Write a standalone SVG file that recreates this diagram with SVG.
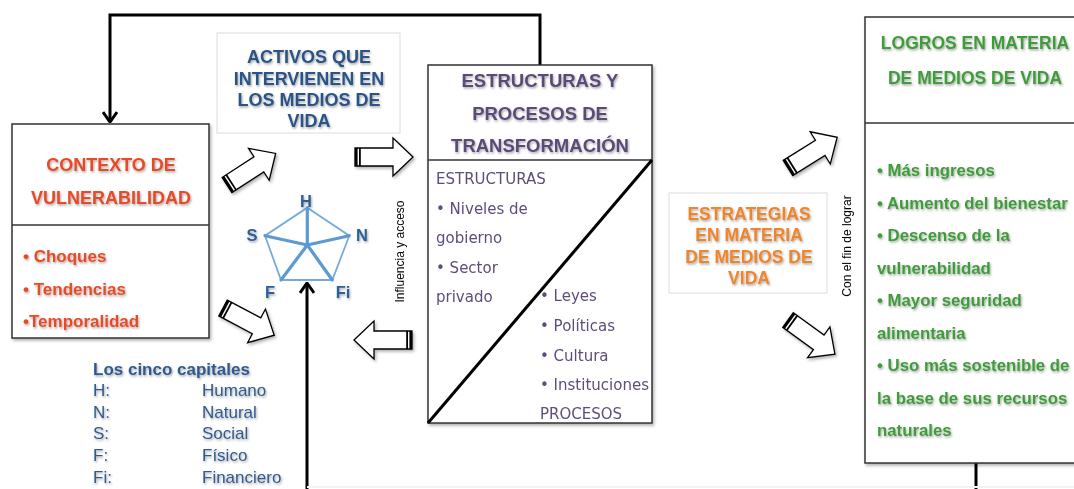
<svg xmlns="http://www.w3.org/2000/svg" xmlns:xlink="http://www.w3.org/1999/xlink" width="1074" height="489" viewBox="0 0 1074 489">
<style>
  .box{fill:#fff;stroke:#333;stroke-width:1.5}
  .lbox{fill:#fff;stroke:#dcdcdc;stroke-width:1}
  .t{font-family:"Liberation Sans",Arial,sans-serif;font-weight:bold;text-anchor:middle}
  .red{fill:#e84a27;font-size:18px}
  .redb{fill:#e84a27;font-size:17px;font-family:"Liberation Sans",Arial,sans-serif;font-weight:bold}
  .blue{fill:#2b5287;font-size:18px}
  .purp{fill:#5b4a78;font-size:18.5px}
  .pb{fill:#5e4d7a;font-size:15px;font-family:"DejaVu Sans",sans-serif}
  .org{fill:#f0842c;font-size:17.5px}
  .grn{fill:#3f9b3b;font-size:17.5px}
  .gb{fill:#3f9b3b;font-size:16.8px;font-family:"Liberation Sans",Arial,sans-serif;font-weight:bold}
  .pl{fill:#2f5f96;font-size:16.5px;font-family:"Liberation Sans",Arial,sans-serif;font-weight:bold;text-anchor:middle}
  .lg{fill:#2f5a90;font-size:17px;font-family:"Liberation Sans",Arial,sans-serif}
  .rot{fill:#000;font-size:12px;font-family:"Liberation Sans",Arial,sans-serif;text-anchor:middle}
  .ln{fill:none;stroke:#000;stroke-width:3}
  .blk{fill:#fff;stroke:#000;stroke-width:1.3;stroke-linejoin:miter}
</style>
<defs>
  <filter id="ts" x="-10%" y="-40%" width="125%" height="190%">
    <feDropShadow dx="1" dy="1.5" stdDeviation="1" flood-color="#000" flood-opacity="0.35"/>
  </filter>
  <filter id="bs" x="-5%" y="-5%" width="112%" height="112%">
    <feDropShadow dx="1.5" dy="2" stdDeviation="1.5" flood-color="#000" flood-opacity="0.3"/>
  </filter>
  <marker id="chev" viewBox="0 0 12 16" refX="11" refY="8" markerWidth="12" markerHeight="16" markerUnits="userSpaceOnUse" orient="auto">
    <path d="M1,1 L11,8 L1,15" fill="none" stroke="#000" stroke-width="3"/>
  </marker>
  <g id="barrow">
    <path class="blk" d="M0,-9 L38,-9 L38,-19 L58,0 L38,19 L38,9 L0,9 Z"/>
    <rect x="0" y="-9" width="2.6" height="18" fill="#000"/>
    <rect x="4" y="-9" width="1.8" height="18" fill="#000"/>
  </g>
</defs>
<rect width="1074" height="489" fill="#fff"/>

<g id="connectors">
  <path class="ln" d="M540,65 V15 H110 V122" marker-end="url(#chev)"/>
  <path class="ln" d="M307,489 V283" marker-end="url(#chev)"/>
  <path class="ln" d="M976,463 V489"/>
  <line x1="307" y1="487" x2="1074" y2="487" stroke="#f3f3f3" stroke-width="2"/>
  <g filter="url(#bs)">
    <use xlink:href="#barrow" transform="translate(227,185) rotate(-33)"/>
    <use xlink:href="#barrow" transform="translate(355,157)"/>
    <use xlink:href="#barrow" transform="translate(223,308) rotate(28)"/>
    <use xlink:href="#barrow" transform="translate(412,340) rotate(180)"/>
    <use xlink:href="#barrow" transform="translate(788,168) rotate(-32)"/>
    <use xlink:href="#barrow" transform="translate(788,320) rotate(36)"/>
  </g>
</g>

<g id="contexto">
  <rect class="box" x="12" y="124" width="197" height="214" filter="url(#bs)"/>
  <line x1="12" y1="225" x2="209" y2="225" stroke="#333" stroke-width="1.5"/>
  <g filter="url(#ts)">
    <text class="t red" x="111" y="171">CONTEXTO DE</text>
    <text class="t red" x="111" y="204">VULNERABILIDAD</text>
    <text class="redb" x="23" y="262">• Choques</text>
    <text class="redb" x="23" y="295">• Tendencias</text>
    <text class="redb" x="23" y="327">•Temporalidad</text>
  </g>
</g>

<g id="activos">
  <rect class="lbox" x="217" y="33" width="183" height="100"/>
  <g filter="url(#ts)">
    <text class="t blue" x="309" y="63">ACTIVOS QUE</text>
    <text class="t blue" x="309" y="85">INTERVIENEN EN</text>
    <text class="t blue" x="309" y="106">LOS MEDIOS DE</text>
    <text class="t blue" x="309" y="127">VIDA</text>
  </g>
</g>

<g id="pentagono">
  <polygon points="307.3,207.7 349.3,235.7 332.3,280 281,280 265,235.7" fill="none" stroke="#74aadd" stroke-width="1.8"/>
  <g stroke="#5b9ad3" stroke-width="3.2" stroke-linecap="round">
    <line x1="307.3" y1="245" x2="307.3" y2="207.7"/>
    <line x1="307.3" y1="245" x2="349.3" y2="235.7"/>
    <line x1="307.3" y1="245" x2="332.3" y2="280"/>
    <line x1="307.3" y1="245" x2="281" y2="280"/>
    <line x1="307.3" y1="245" x2="265" y2="235.7"/>
  </g>
  <g filter="url(#ts)">
    <text class="pl" x="306" y="207">H</text>
    <text class="pl" x="252" y="241">S</text>
    <text class="pl" x="362" y="241">N</text>
    <text class="pl" x="270" y="298">F</text>
    <text class="pl" x="343" y="298">Fi</text>
  </g>
</g>

<g id="leyenda" filter="url(#ts)">
  <text class="lg" x="93" y="375" font-weight="bold" font-size="18" fill="#2a4a7c">Los cinco capitales</text>
  <text class="lg" x="93" y="396">H:</text><text class="lg" x="202" y="396">Humano</text>
  <text class="lg" x="93" y="418">N:</text><text class="lg" x="202" y="418">Natural</text>
  <text class="lg" x="93" y="439">S:</text><text class="lg" x="202" y="439">Social</text>
  <text class="lg" x="93" y="461">F:</text><text class="lg" x="202" y="461">Físico</text>
  <text class="lg" x="93" y="483">Fi:</text><text class="lg" x="202" y="483">Financiero</text>
</g>

<g id="influencia">
  <text class="rot" transform="translate(404,251.5) rotate(-90)">Influencia y acceso</text>
</g>

<g id="estructuras">
  <rect class="box" x="428" y="65" width="224" height="358" filter="url(#bs)"/>
  <line x1="428" y1="160" x2="652" y2="160" stroke="#333" stroke-width="1.5"/>
  <line x1="428" y1="423" x2="652" y2="160" stroke="#000" stroke-width="3"/>
  <g filter="url(#ts)">
    <text class="t purp" x="540" y="87">ESTRUCTURAS Y</text>
    <text class="t purp" x="540" y="120">PROCESOS DE</text>
    <text class="t purp" x="540" y="152">TRANSFORMACIÓN</text>
  </g>
  <text class="pb" x="436" y="184">ESTRUCTURAS</text>
  <text class="pb" x="436" y="214">• Niveles de</text>
  <text class="pb" x="436" y="243">gobierno</text>
  <text class="pb" x="436" y="273">• Sector</text>
  <text class="pb" x="436" y="302">privado</text>
  <text class="pb" x="540" y="301">• Leyes</text>
  <text class="pb" x="540" y="331">• Políticas</text>
  <text class="pb" x="540" y="361">• Cultura</text>
  <text class="pb" x="540" y="390">• Instituciones</text>
  <text class="pb" x="540" y="419">PROCESOS</text>
</g>

<g id="estrategias">
  <rect class="lbox" x="669" y="193" width="158" height="100"/>
  <g filter="url(#ts)">
    <text class="t org" x="749" y="220">ESTRATEGIAS</text>
    <text class="t org" x="749" y="241">EN MATERIA</text>
    <text class="t org" x="749" y="263">DE MEDIOS DE</text>
    <text class="t org" x="749" y="284">VIDA</text>
  </g>
</g>

<g id="confin">
  <text class="rot" transform="translate(851,246) rotate(-90)">Con el fin de lograr</text>
</g>

<g id="logros">
  <rect class="box" x="865" y="17" width="220" height="446" filter="url(#bs)"/>
  <line x1="865" y1="123" x2="1074" y2="123" stroke="#333" stroke-width="1.5"/>
  <g filter="url(#ts)">
    <text class="t grn" x="975" y="49">LOGROS EN MATERIA</text>
    <text class="t grn" x="975" y="84">DE MEDIOS DE VIDA</text>
    <text class="gb" x="877" y="176">• Más ingresos</text>
    <text class="gb" x="877" y="208.5">• Aumento del bienestar</text>
    <text class="gb" x="877" y="241">• Descenso de la</text>
    <text class="gb" x="877" y="273.5">vulnerabilidad</text>
    <text class="gb" x="877" y="306">• Mayor seguridad</text>
    <text class="gb" x="877" y="338.5">alimentaria</text>
    <text class="gb" x="877" y="371">• Uso más sostenible de</text>
    <text class="gb" x="877" y="403.5">la base de sus recursos</text>
    <text class="gb" x="877" y="436">naturales</text>
  </g>
</g>
</svg>
